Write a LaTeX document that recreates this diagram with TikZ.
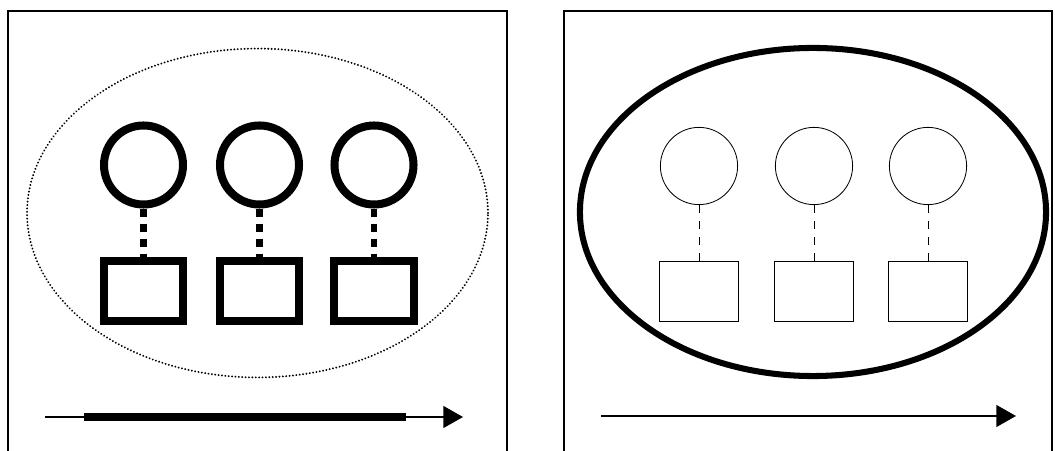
\documentclass[tikz,border=0pt]{standalone}
\usetikzlibrary{shapes.geometric,arrows.meta}

\begin{document}
\begin{tikzpicture}[
    x=0.025cm, y=-0.025cm,
    panel/.style={draw, line width=1.4pt},
    unitbold/.style={circle, draw, line width=5.7pt, minimum size=1.975cm, inner sep=0pt},
    unitthin/.style={circle, draw, line width=0.6pt, minimum size=1.93cm, inner sep=0pt},
    slotbold/.style={rectangle, draw, line width=5.7pt, minimum width=1.975cm, minimum height=1.5cm, inner sep=0pt},
    slotthin/.style={rectangle, draw, line width=0.6pt, minimum width=1.975cm, minimum height=1.48cm, inner sep=0pt},
    linkbold/.style={line width=4.3pt, dash pattern=on 5.7pt off 5pt},
    linkthin/.style={line width=0.6pt, dash pattern=on 5.7pt off 5.7pt},
    groupdotted/.style={ellipse, draw, line width=1.5pt, dash pattern=on 0.01pt off 2.4pt, line cap=round, inner sep=0pt},
    groupbold/.style={ellipse, draw, line width=4.3pt, inner sep=0pt},
    timeline/.style={->, >={Triangle[length=14pt, width=15.5pt]}, line width=1.4pt},
    timebar/.style={line width=5.7pt}
]
\useasboundingbox (0,0) rectangle (1055,451);

% ===== LEFT PANEL =====
\draw[panel] (8,451) -- (8,11) -- (507,11) -- (507,451);

\node[groupdotted, minimum width=11.52cm, minimum height=8.22cm] (l_group) at (257.5,213) {};

% units
\node[unitbold] (l_unit1) at (143.5,165) {};
\node[unitbold] (l_unit2) at (259.5,165) {};
\node[unitbold] (l_unit3) at (374,165) {};

% slots
\node[slotbold] (l_slot1) at (143.5,291) {};
\node[slotbold] (l_slot2) at (259.5,291) {};
\node[slotbold] (l_slot3) at (374,291) {};

% links
\draw[linkbold] (l_unit1.south) -- (l_slot1.north);
\draw[linkbold] (l_unit2.south) -- (l_slot2.north);
\draw[linkbold] (l_unit3.south) -- (l_slot3.north);

% time axis
\coordinate (l_start) at (45,417);
\coordinate (l_end) at (463,417);
\coordinate (l_barA) at (84,417);
\coordinate (l_barB) at (406,417);
\draw[timeline] (l_start) -- (l_end);
\draw[timebar] (l_barA) -- (l_barB);


% ===== RIGHT PANEL =====
\draw[panel] (564,451) -- (564,11) -- (1052,11) -- (1052,451);

\node[groupbold, minimum width=11.65cm, minimum height=8.2cm] (r_group) at (813,212) {};

% units
\node[unitthin] (r_unit1) at (699,166) {};
\node[unitthin] (r_unit2) at (814,166) {};
\node[unitthin] (r_unit3) at (928,166) {};

% slots
\node[slotthin] (r_slot1) at (699,291.5) {};
\node[slotthin] (r_slot2) at (814,291.5) {};
\node[slotthin] (r_slot3) at (928,291.5) {};

% links
\draw[linkthin] (r_unit1.south) -- (r_slot1.north);
\draw[linkthin] (r_unit2.south) -- (r_slot2.north);
\draw[linkthin] (r_unit3.south) -- (r_slot3.north);

% time axis
\coordinate (r_start) at (601,416);
\coordinate (r_end) at (1016,416);
\draw[timeline] (r_start) -- (r_end);

\end{tikzpicture}
\end{document}
